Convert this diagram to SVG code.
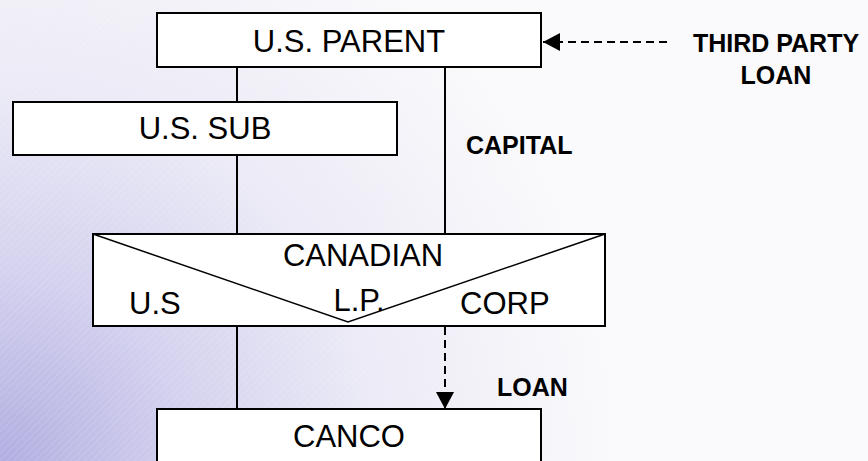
<svg xmlns="http://www.w3.org/2000/svg" width="868" height="461" viewBox="0 0 868 461">
  <defs>
    <radialGradient id="bgGrad" gradientUnits="userSpaceOnUse" cx="0" cy="461" r="620">
      <stop offset="0" stop-color="#b2aee1"/>
      <stop offset="0.3" stop-color="#d3d1ee"/>
      <stop offset="0.6" stop-color="#ebeaf6"/>
      <stop offset="1" stop-color="#fafafc"/>
    </radialGradient>
    <pattern id="hatch" patternUnits="userSpaceOnUse" width="5" height="5" patternTransform="rotate(45)">
      <line x1="0" y1="0" x2="0" y2="5" stroke="#ffffff" stroke-width="1" stroke-opacity="0.25"/>
    </pattern>
    <marker id="arrowHead" markerUnits="userSpaceOnUse" viewBox="0 0 17 18" refX="17" refY="9" markerWidth="17" markerHeight="18" orient="auto">
      <path d="M0,0 L17,9 L0,18 Z" fill="#000"/>
    </marker>
  </defs>
  <style>
    .box { fill: #ffffff; stroke: #000000; stroke-width: 2; }
    .lp-v { fill: none; stroke: #000000; stroke-width: 1.5; }
    .link { fill: none; stroke: #000000; stroke-width: 2; }
    .dash { fill: none; stroke: #000000; stroke-width: 2; stroke-dasharray: 8 5; }
    .name { font-family: "Liberation Sans", Arial, sans-serif; font-size: 31px; fill: #000000; }
    .tag { font-family: "Liberation Sans", Arial, sans-serif; font-size: 25px; font-weight: bold; fill: #000000; }
  </style>

  <!-- background -->
  <rect x="0" y="0" width="868" height="461" fill="url(#bgGrad)"/>
  <rect x="0" y="0" width="868" height="461" fill="url(#hatch)"/>

  <!-- connectors -->
  <g id="connectors">
    <line class="link" x1="237" y1="67" x2="237" y2="102"/>
    <line class="link" x1="237" y1="155" x2="237" y2="234"/>
    <line class="link" x1="445" y1="67" x2="445" y2="234"/>
    <line class="link" x1="237" y1="326" x2="237" y2="409"/>
    <line class="dash" x1="445" y1="327" x2="445" y2="409" marker-end="url(#arrowHead)"/>
    <line class="dash" x1="667" y1="42" x2="543" y2="42" marker-end="url(#arrowHead)"/>
  </g>

  <g id="us-parent">
    <rect class="box" x="157" y="13" width="384" height="54"/>
    <text class="name" x="349" y="52" text-anchor="middle">U.S. PARENT</text>
  </g>

  <g id="us-sub">
    <rect class="box" x="13" y="102" width="384" height="53"/>
    <text class="name" x="205" y="139" text-anchor="middle">U.S. SUB</text>
  </g>

  <g id="canadian-lp">
    <rect class="box" x="93" y="234" width="512" height="92"/>
    <polyline class="lp-v" points="93,234 348,322 605,234"/>
    <text class="name" x="363" y="266" text-anchor="middle">CANADIAN</text>
    <text class="name" x="359" y="311" text-anchor="middle">L.P.</text>
    <text class="name" x="129" y="314">U.S</text>
    <text class="name" x="460" y="314">CORP</text>
  </g>

  <g id="canco">
    <rect class="box" x="157" y="409" width="384" height="60"/>
    <text class="name" x="349" y="447" text-anchor="middle">CANCO</text>
  </g>

  <g id="labels">
    <text class="tag" x="776" y="52" text-anchor="middle">THIRD PARTY</text>
    <text class="tag" x="776" y="84" text-anchor="middle">LOAN</text>
    <text class="tag" x="466" y="154">CAPITAL</text>
    <text class="tag" x="497" y="396">LOAN</text>
  </g>
</svg>
